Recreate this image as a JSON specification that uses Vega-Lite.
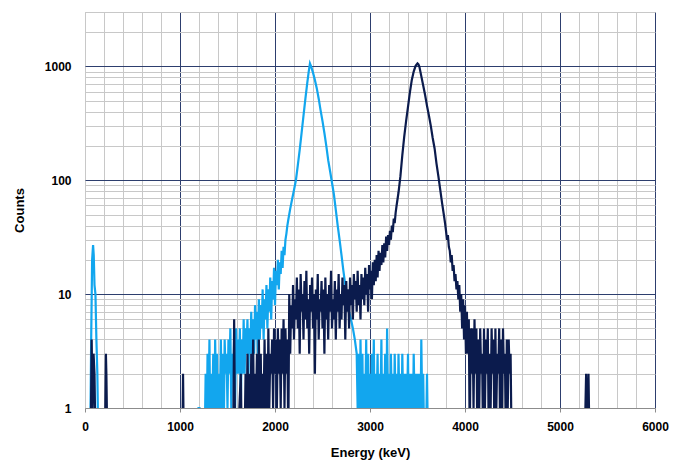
{
  "$schema": "https://vega.github.io/schema/vega-lite/v6.json",
  "width": 570,
  "height": 396,
  "autosize": {"type": "none"},
  "padding": {"left": 85, "top": 12, "right": 26, "bottom": 56},
  "background": "white",
  "config": {"view": {"stroke": "#C0C0C0", "strokeWidth": 1}, "font": "Liberation Sans"},
  "datasets": {
    "light": [
      {"e":40,"c":0.5},{"e":55,"c":0.5},{"e":65,"c":4},{"e":75,"c":20},{"e":85,"c":27},{"e":92,"c":22},{"e":100,"c":12},{"e":110,"c":10},{"e":120,"c":4},{"e":130,"c":2},{"e":140,"c":0.5},
      {"e":1185,"c":0.5},{"e":1195,"c":1},{"e":1205,"c":1},{"e":1215,"c":0.5},{"e":1250,"c":0.5},
      {"e":1260,"c":0.5},{"e":1270,"c":2},{"e":1280,"c":0.5},{"e":1290,"c":3},{"e":1300,"c":1},{"e":1310,"c":4},{"e":1320,"c":0.5},{"e":1330,"c":2},{"e":1340,"c":1},{"e":1350,"c":3},
      {"e":1360,"c":0.5},{"e":1370,"c":4},{"e":1380,"c":1},{"e":1390,"c":3},{"e":1400,"c":0.5},{"e":1410,"c":2},{"e":1420,"c":1},{"e":1430,"c":4},{"e":1440,"c":1},{"e":1450,"c":3},
      {"e":1460,"c":0.5},{"e":1470,"c":4},{"e":1480,"c":2},{"e":1490,"c":3},{"e":1500,"c":1},{"e":1510,"c":4},{"e":1520,"c":2},{"e":1530,"c":5},{"e":1540,"c":1},{"e":1550,"c":3},
      {"e":1560,"c":2},{"e":1570,"c":4},{"e":1580,"c":1},{"e":1590,"c":5},{"e":1600,"c":2},{"e":1610,"c":4},{"e":1620,"c":2},{"e":1630,"c":5},{"e":1640,"c":1},{"e":1650,"c":4},
      {"e":1660,"c":2},{"e":1670,"c":6},{"e":1680,"c":2},{"e":1690,"c":5},{"e":1700,"c":3},{"e":1710,"c":6},{"e":1720,"c":2},{"e":1730,"c":5},{"e":1740,"c":3},{"e":1750,"c":7},
      {"e":1760,"c":2},{"e":1770,"c":6},{"e":1780,"c":3},{"e":1790,"c":8},{"e":1800,"c":4},{"e":1810,"c":7},{"e":1820,"c":3},{"e":1830,"c":9},{"e":1840,"c":4},{"e":1850,"c":8},
      {"e":1860,"c":5},{"e":1870,"c":11},{"e":1880,"c":4},{"e":1890,"c":9},{"e":1900,"c":6},{"e":1910,"c":12},{"e":1920,"c":5},{"e":1930,"c":11},{"e":1940,"c":7},{"e":1950,"c":14},
      {"e":1960,"c":6},{"e":1970,"c":13},{"e":1980,"c":9},{"e":1990,"c":17},{"e":2000,"c":8},{"e":2010,"c":16},{"e":2020,"c":12},{"e":2030,"c":20},{"e":2040,"c":11},{"e":2050,"c":19},
      {"e":2060,"c":15},{"e":2070,"c":24},{"e":2080,"c":17},{"e":2090,"c":26},{"e":2100,"c":22},{"e":2110,"c":30},{"e":2120,"c":34},{"e":2130,"c":40},
      {"e":2140,"c":45},{"e":2160,"c":56},{"e":2180,"c":68},{"e":2200,"c":82},{"e":2220,"c":100},{"e":2240,"c":135},{"e":2260,"c":185},{"e":2280,"c":260},{"e":2300,"c":370},
      {"e":2320,"c":520},{"e":2340,"c":720},{"e":2355,"c":900},{"e":2368,"c":1060},{"e":2380,"c":1000},{"e":2400,"c":880},{"e":2420,"c":760},{"e":2440,"c":640},{"e":2460,"c":520},
      {"e":2480,"c":410},{"e":2500,"c":330},{"e":2520,"c":260},{"e":2540,"c":200},{"e":2560,"c":150},{"e":2580,"c":120},{"e":2600,"c":95},{"e":2620,"c":75},{"e":2640,"c":55},
      {"e":2660,"c":40},{"e":2680,"c":30},{"e":2700,"c":22},{"e":2720,"c":16},{"e":2740,"c":12},{"e":2760,"c":9},{"e":2780,"c":7},{"e":2800,"c":6},{"e":2820,"c":5},{"e":2840,"c":4},{"e":2860,"c":3},
      {"e":2870,"c":1},{"e":2880,"c":3},{"e":2890,"c":0.5},{"e":2900,"c":4},{"e":2910,"c":1},{"e":2920,"c":3},{"e":2930,"c":0.5},{"e":2940,"c":2},{"e":2950,"c":1},{"e":2960,"c":4},
      {"e":2970,"c":0.5},{"e":2980,"c":3},{"e":2990,"c":1},{"e":3000,"c":2},{"e":3010,"c":0.5},{"e":3020,"c":3},{"e":3030,"c":1},{"e":3040,"c":4},{"e":3050,"c":0.5},{"e":3060,"c":2},
      {"e":3070,"c":1},{"e":3080,"c":3},{"e":3090,"c":0.5},{"e":3100,"c":2},{"e":3110,"c":1},{"e":3120,"c":4},{"e":3130,"c":0.5},{"e":3140,"c":2},{"e":3150,"c":1},{"e":3160,"c":3},
      {"e":3170,"c":0.5},{"e":3180,"c":5},{"e":3190,"c":1},{"e":3200,"c":2},{"e":3210,"c":0.5},{"e":3220,"c":3},{"e":3230,"c":1},{"e":3240,"c":2},{"e":3250,"c":0.5},{"e":3260,"c":3},
      {"e":3270,"c":1},{"e":3280,"c":2},{"e":3290,"c":0.5},{"e":3300,"c":3},{"e":3310,"c":1},{"e":3320,"c":2},{"e":3330,"c":0.5},{"e":3340,"c":3},{"e":3350,"c":1},{"e":3360,"c":2},
      {"e":3370,"c":0.5},{"e":3380,"c":2},{"e":3390,"c":1},{"e":3400,"c":3},{"e":3410,"c":0.5},{"e":3420,"c":2},{"e":3430,"c":1},{"e":3440,"c":2},{"e":3450,"c":0.5},{"e":3460,"c":3},
      {"e":3470,"c":1},{"e":3480,"c":2},{"e":3490,"c":0.5},{"e":3500,"c":2},{"e":3510,"c":1},{"e":3520,"c":2},{"e":3530,"c":0.5},{"e":3540,"c":4},{"e":3550,"c":1},{"e":3560,"c":2},
      {"e":3570,"c":0.5},{"e":3590,"c":0.5},{"e":3600,"c":2},{"e":3610,"c":0.5},{"e":3650,"c":0.5},{"e":3660,"c":1},{"e":3670,"c":0.5},
      {"e":5225,"c":0.5},{"e":5230,"c":1},{"e":5235,"c":0.5},{"e":5395,"c":0.5},{"e":5400,"c":1},{"e":5405,"c":0.5},{"e":5420,"c":0.5}
    ],
    "dark": [
      {"e":40,"c":0.5},{"e":60,"c":0.5},{"e":70,"c":4},{"e":80,"c":1},{"e":90,"c":3},{"e":100,"c":2},{"e":110,"c":0.5},
      {"e":210,"c":0.5},{"e":220,"c":3},{"e":225,"c":2},{"e":235,"c":0.5},
      {"e":335,"c":0.5},{"e":340,"c":1},{"e":345,"c":0.5},
      {"e":1025,"c":0.5},{"e":1032,"c":2},{"e":1040,"c":0.5},
      {"e":1560,"c":0.5},{"e":1570,"c":6},{"e":1580,"c":0.5},{"e":1600,"c":1},{"e":1610,"c":0.5},{"e":1640,"c":2},{"e":1650,"c":0.5},{"e":1670,"c":0.5},
      {"e":1680,"c":0.5},{"e":1690,"c":2},{"e":1700,"c":0.5},{"e":1710,"c":3},{"e":1720,"c":1},{"e":1730,"c":2},{"e":1740,"c":0.5},{"e":1750,"c":3},{"e":1760,"c":1},{"e":1770,"c":4},
      {"e":1780,"c":0.5},{"e":1790,"c":2},{"e":1800,"c":1},{"e":1810,"c":3},{"e":1820,"c":0.5},{"e":1830,"c":4},{"e":1840,"c":1},{"e":1850,"c":3},{"e":1860,"c":0.5},{"e":1870,"c":2},
      {"e":1880,"c":1},{"e":1890,"c":4},{"e":1900,"c":1},{"e":1910,"c":3},{"e":1920,"c":0.5},{"e":1930,"c":5},{"e":1940,"c":1},{"e":1950,"c":3},{"e":1960,"c":2},{"e":1970,"c":4},
      {"e":1980,"c":1},{"e":1990,"c":5},{"e":2000,"c":2},{"e":2010,"c":4},{"e":2020,"c":1},{"e":2030,"c":5},{"e":2040,"c":2},{"e":2050,"c":4},{"e":2060,"c":1},{"e":2070,"c":5},
      {"e":2080,"c":2},{"e":2090,"c":6},{"e":2100,"c":1},{"e":2110,"c":5},{"e":2120,"c":2},{"e":2130,"c":4},{"e":2140,"c":0.5},{"e":2150,"c":10},{"e":2160,"c":3},{"e":2170,"c":8},
      {"e":2180,"c":5},{"e":2190,"c":12},{"e":2200,"c":4},{"e":2210,"c":9},{"e":2220,"c":6},{"e":2230,"c":14},{"e":2240,"c":5},{"e":2250,"c":11},{"e":2260,"c":3},{"e":2270,"c":15},
      {"e":2280,"c":7},{"e":2290,"c":10},{"e":2300,"c":4},{"e":2310,"c":13},{"e":2320,"c":6},{"e":2330,"c":16},{"e":2340,"c":5},{"e":2350,"c":9},{"e":2360,"c":3},{"e":2370,"c":12},
      {"e":2380,"c":7},{"e":2390,"c":14},{"e":2400,"c":5},{"e":2410,"c":10},{"e":2420,"c":2},{"e":2430,"c":11},{"e":2440,"c":6},{"e":2450,"c":15},{"e":2460,"c":4},{"e":2470,"c":9},
      {"e":2480,"c":7},{"e":2490,"c":13},{"e":2500,"c":5},{"e":2510,"c":11},{"e":2520,"c":3},{"e":2530,"c":14},{"e":2540,"c":6},{"e":2550,"c":10},{"e":2560,"c":4},{"e":2570,"c":12},
      {"e":2580,"c":7},{"e":2590,"c":16},{"e":2600,"c":5},{"e":2610,"c":9},{"e":2620,"c":6},{"e":2630,"c":13},{"e":2640,"c":4},{"e":2650,"c":11},{"e":2660,"c":7},{"e":2670,"c":15},
      {"e":2680,"c":5},{"e":2690,"c":10},{"e":2700,"c":6},{"e":2710,"c":14},{"e":2720,"c":8},{"e":2730,"c":12},{"e":2740,"c":4},{"e":2750,"c":13},{"e":2760,"c":7},{"e":2770,"c":11},
      {"e":2780,"c":5},{"e":2790,"c":14},{"e":2800,"c":8},{"e":2810,"c":12},{"e":2820,"c":6},{"e":2830,"c":15},{"e":2840,"c":9},{"e":2850,"c":13},{"e":2860,"c":7},{"e":2870,"c":16},
      {"e":2880,"c":8},{"e":2890,"c":12},{"e":2900,"c":6},{"e":2910,"c":15},{"e":2920,"c":9},{"e":2930,"c":14},{"e":2940,"c":8},{"e":2950,"c":17},{"e":2960,"c":10},{"e":2970,"c":15},
      {"e":2980,"c":7},{"e":2990,"c":18},{"e":3000,"c":11},{"e":3010,"c":16},{"e":3020,"c":9},{"e":3030,"c":19},{"e":3040,"c":12},{"e":3050,"c":20},{"e":3060,"c":13},{"e":3070,"c":22},
      {"e":3080,"c":14},{"e":3090,"c":24},{"e":3100,"c":16},{"e":3110,"c":23},{"e":3120,"c":18},{"e":3130,"c":27},{"e":3140,"c":19},{"e":3150,"c":28},{"e":3160,"c":21},{"e":3170,"c":32},
      {"e":3180,"c":24},{"e":3190,"c":33},{"e":3200,"c":27},{"e":3210,"c":36},{"e":3220,"c":30},{"e":3230,"c":40},{"e":3240,"c":35},{"e":3250,"c":46},{"e":3260,"c":42},{"e":3270,"c":52},{"e":3280,"c":60},
      {"e":3300,"c":78},{"e":3320,"c":108},{"e":3340,"c":165},{"e":3360,"c":240},{"e":3380,"c":330},{"e":3400,"c":440},{"e":3420,"c":590},{"e":3440,"c":760},{"e":3460,"c":900},
      {"e":3480,"c":1010},{"e":3500,"c":1060},{"e":3510,"c":1040},{"e":3520,"c":990},{"e":3540,"c":820},{"e":3560,"c":680},{"e":3580,"c":560},{"e":3600,"c":450},{"e":3620,"c":370},
      {"e":3640,"c":300},{"e":3660,"c":235},{"e":3680,"c":190},{"e":3700,"c":140},{"e":3720,"c":108},{"e":3740,"c":82},{"e":3760,"c":62},{"e":3780,"c":48},
      {"e":3790,"c":42},{"e":3800,"c":36},{"e":3810,"c":30},{"e":3820,"c":33},{"e":3830,"c":26},{"e":3840,"c":24},{"e":3850,"c":19},{"e":3860,"c":22},{"e":3870,"c":16},{"e":3880,"c":18},
      {"e":3890,"c":13},{"e":3900,"c":15},{"e":3910,"c":11},{"e":3920,"c":13},{"e":3930,"c":9},{"e":3940,"c":12},{"e":3950,"c":7},{"e":3960,"c":10},{"e":3970,"c":5},{"e":3980,"c":9},
      {"e":3990,"c":4},{"e":4000,"c":8},{"e":4010,"c":3},{"e":4020,"c":7},{"e":4030,"c":3},{"e":4040,"c":6},{"e":4050,"c":0.5},{"e":4060,"c":5},{"e":4070,"c":2},{"e":4080,"c":5},
      {"e":4090,"c":1},{"e":4100,"c":6},{"e":4110,"c":2},{"e":4120,"c":5},{"e":4130,"c":0.5},{"e":4140,"c":4},{"e":4150,"c":1},{"e":4160,"c":5},{"e":4170,"c":2},{"e":4180,"c":3},
      {"e":4190,"c":0.5},{"e":4200,"c":5},{"e":4210,"c":1},{"e":4220,"c":4},{"e":4230,"c":2},{"e":4240,"c":5},{"e":4250,"c":0.5},{"e":4260,"c":3},{"e":4270,"c":1},{"e":4280,"c":5},
      {"e":4290,"c":2},{"e":4300,"c":4},{"e":4310,"c":0.5},{"e":4320,"c":5},{"e":4330,"c":1},{"e":4340,"c":3},{"e":4350,"c":2},{"e":4360,"c":5},{"e":4370,"c":0.5},{"e":4380,"c":4},
      {"e":4390,"c":1},{"e":4400,"c":5},{"e":4410,"c":2},{"e":4420,"c":3},{"e":4430,"c":0.5},{"e":4440,"c":4},{"e":4450,"c":1},{"e":4460,"c":4},{"e":4470,"c":2},{"e":4480,"c":3},{"e":4490,"c":0.5},
      {"e":5260,"c":0.5},{"e":5275,"c":2},{"e":5285,"c":0.5},{"e":5300,"c":2},{"e":5310,"c":0.5},{"e":5330,"c":0.5}
    ]
  },
  "encoding": {
    "x": {
      "field": "e", "type": "quantitative",
      "scale": {"domain": [0, 6000], "nice": false, "zero": false},
      "axis": {
        "values": [0,200,400,600,800,1000,1200,1400,1600,1800,2000,2200,2400,2600,2800,3000,3200,3400,3600,3800,4000,4200,4400,4600,4800,5000,5200,5400,5600,5800,6000],
        "format": "d",
        "labelExpr": "datum.value % 1000 === 0 ? datum.label : ''",
        "labelFont": "Liberation Sans", "labelFontSize": 12, "labelFontWeight": "bold", "labelColor": "#000000",
        "labelPadding": 9, "labelFlush": false, "labelOverlap": false,
        "tickSize": 4, "tickColor": "#8C8C8C",
        "tickOpacity": {"condition": {"test": "datum.value % 1000 === 0", "value": 1}, "value": 0},
        "domainColor": "#8C8C8C", "domainWidth": 1,
        "grid": true, "gridWidth": 1,
        "gridColor": {"condition": {"test": "datum.value % 1000 === 0 && datum.value > 0", "value": "#2D3E6E"}, "value": "#C8C8C8"},
        "title": "Energy (keV)", "titleFont": "Liberation Sans", "titleFontSize": 13, "titleFontWeight": "bold", "titleColor": "#000000", "titlePadding": 14
      }
    },
    "y": {
      "field": "c", "type": "quantitative",
      "scale": {"type": "log", "domain": [1, 3000], "nice": false},
      "axis": {
        "values": [1,2,3,4,5,6,7,8,9,10,20,30,40,50,60,70,80,90,100,200,300,400,500,600,700,800,900,1000,2000,3000],
        "format": "d",
        "labelExpr": "indexof([1,10,100,1000], datum.value) >= 0 ? datum.label : ''",
        "labelFont": "Liberation Sans", "labelFontSize": 12, "labelFontWeight": "bold", "labelColor": "#000000",
        "labelPadding": 14, "labelOverlap": false,
        "ticks": false, "domain": false,
        "grid": true, "gridWidth": 1,
        "gridColor": {"condition": {"test": "indexof([10,100,1000], datum.value) >= 0", "value": "#2D3E6E"}, "value": "#C8C8C8"},
        "title": "Counts", "titleFont": "Liberation Sans", "titleFontSize": 13, "titleFontWeight": "bold", "titleColor": "#000000", "titlePadding": 18
      }
    }
  },
  "layer": [
    {"data": {"name": "light"}, "mark": {"type": "line", "color": "#12A6EE", "strokeWidth": 2.2, "clip": true}},
    {"data": {"name": "dark"}, "mark": {"type": "line", "color": "#0B1B4D", "strokeWidth": 2.2, "clip": true}}
  ]
}
